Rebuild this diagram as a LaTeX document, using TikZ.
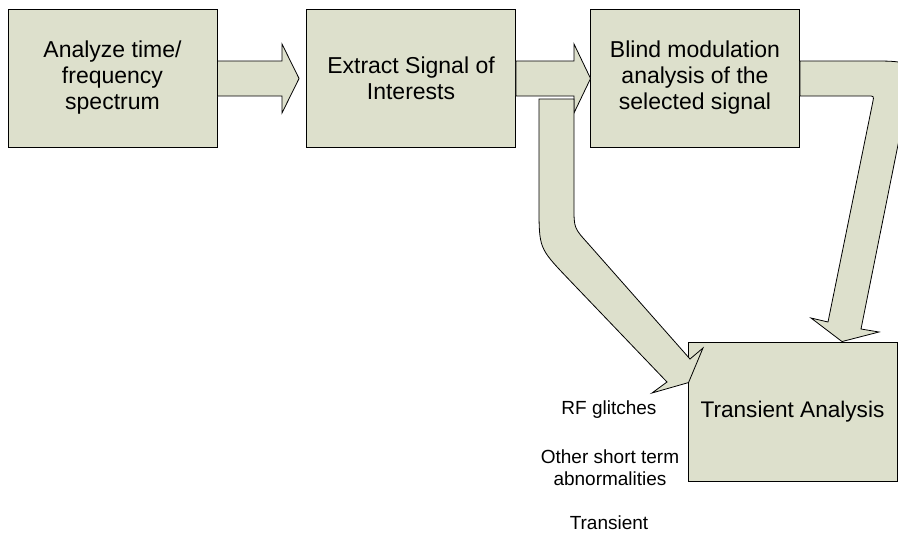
\documentclass[tikz,border=0pt]{standalone}
\usepackage{fontspec}
\setmainfont{Liberation Sans}
\usetikzlibrary{calc}
\definecolor{boxfill}{RGB}{221,224,204}
\begin{document}
\begin{tikzpicture}[x=1pt,y=-1pt,
  stepbox/.style={draw=black, line width=0.9pt, fill=boxfill,
    minimum width=209pt, minimum height=138pt, inner sep=0pt,
    align=center, font=\fontsize{23}{26}\selectfont},
  blockarrow/.style={draw=black, line width=0.8pt, fill=boxfill, line join=miter},
  note/.style={align=center, font=\fontsize{19}{22}\selectfont}]
\useasboundingbox (0,0) rectangle (898,538);
\clip (0,0) rectangle (898,538);

% process steps
\node[stepbox] (analyze) at (112.5,78) {Analyze time/\\frequency\\spectrum};
\node[stepbox] (extract) at (411,78) {Extract Signal of\\Interests};
\node[stepbox] (blind) at (695,78) {Blind modulation\\analysis of the\\selected signal};
\node[stepbox, minimum height=139pt, font=\fontsize{22.6}{26}\selectfont] (transient) at (792.5,411.5) {Transient Analysis};

% straight block arrows
\draw[blockarrow] ($(analyze.east)+(0,-17)$) -- (282,61) -- (282,44)
  -- ($(extract.west)+(-7,0.5)$) -- (282,113) -- (282,96)
  -- ($(analyze.east)+(0,18)$) -- cycle;
\draw[blockarrow] ($(extract.east)+(0,-17)$) -- (574,61) -- (574,44)
  -- ($(blind.west)+(0.5,0.5)$) -- (574,113) -- (574,96)
  -- ($(extract.east)+(0,18)$) -- cycle;

% bent arrow from the extraction step down to the transient analysis
\draw[blockarrow] (539,99) -- (574,99) -- (574,207)
  .. controls (574,228) .. (588,243.5) -- (690,359) -- (703,348)
  -- ($(transient.north west)+(1,41)$) -- (652,393) -- (667,382)
  -- (567,277.5) .. controls (539,248) .. (539,205) -- cycle;

% bent arrow from the modulation analysis round to the transient analysis
\draw[blockarrow] ($(blind.east)+(0,-17)$) -- (870,61)
  .. controls (915,61) .. (906,105) -- (861,329) -- (879,332)
  -- ($(transient.north)+(49.5,0)$) -- (811,318) -- (828,322)
  -- (872.8,101.9) .. controls (874,96) .. (868,96)
  -- ($(blind.east)+(0,18)$) -- cycle;

% notes
\node[note] (rf) at (609,410) {RF glitches};
\node[note] (other) at (610,468) {Other short term\\abnormalities};
\node[note] (trans) at (609,523) {Transient};
\end{tikzpicture}
\end{document}
